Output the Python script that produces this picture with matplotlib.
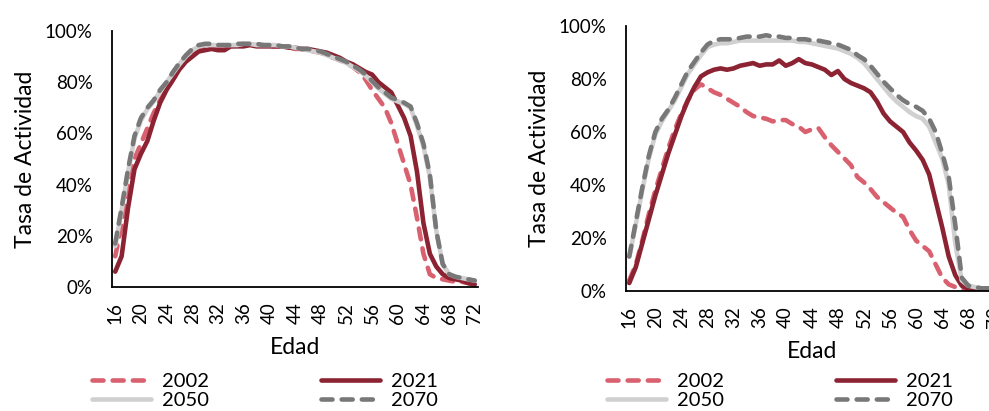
import matplotlib
matplotlib.use("Agg")
import matplotlib.pyplot as plt
from matplotlib.ticker import PercentFormatter

plt.rcParams['font.family'] = ['Lato', 'DejaVu Sans']

ages = list(range(16, 73))
tick_ages = list(range(16, 73, 4))

# Left panel (%)
left_2002 = [12, 24, 40, 50, 56, 62, 68, 73, 77, 81, 85, 88.5, 91, 93, 93.5, 94, 94, 94, 94, 94.5,
             95, 94.5, 94.5, 94.5, 94, 94, 94, 93.5, 93, 93, 92.5, 92, 91.5, 90.5, 89.5, 88.5, 87.5, 86,
             84, 81, 77, 73.5, 70, 64, 56, 48, 40, 27, 13, 5, 3.5, 3, 2.5, 2, 2, 1.5, 1]
left_2021 = [6, 12, 31, 46, 52, 57, 65, 72, 77, 81, 85, 88, 90, 92, 92.5, 93, 92.5, 92.5, 94, 94,
             94, 94.5, 94, 94, 94, 94, 94, 93.5, 93.5, 93, 93, 92.5, 92, 91.5, 90.5, 89.5, 88, 87,
             85.5, 84, 83, 80, 78, 76, 71, 66, 59, 45, 25, 13, 8, 5, 3.5, 3, 2.5, 1.5, 1]
left_2050 = [16, 30, 45, 58, 65, 69.5, 72.5, 76.5, 80, 83.5, 87, 90, 92.5, 94, 94.5, 94.5, 94.5, 94.5, 94.5, 94.5,
             95, 95, 94.5, 94.5, 94.5, 94.5, 94, 94, 93.5, 93, 92.5, 92, 91.5, 90.5, 89.5, 88.5, 87.5, 86,
             84.5, 82.5, 80, 77.5, 75.5, 73.5, 72.5, 71.5, 70, 63, 55, 43, 22, 9, 5, 4, 3.5, 3, 2.5]
left_2070 = [17, 31, 46, 59, 66, 70, 73, 77, 80, 84, 87.5, 90.5, 93, 94.5, 95, 95, 94.5, 94.5, 94.5, 95,
             95, 95, 95, 94.5, 94.5, 94.5, 94, 94, 93.5, 93, 93, 92.5, 92, 91, 90, 89, 88, 86.5,
             85, 83, 80.5, 78, 76, 74, 73, 72, 70.5, 64, 56, 44, 22, 9, 5, 4, 3.5, 3, 2.5]

# Right panel (%)
right_2002 = [4, 10, 19, 29, 38, 46, 54, 61, 67, 72, 76, 78, 76.5, 75, 74, 72.5, 71, 69.5, 67.5, 66,
              65.5, 65, 64, 64.5, 64.5, 63, 62, 60, 61, 61.5, 58, 55, 52.5, 50, 47.5, 43, 41, 38.5,
              35.5, 33.5, 31.5, 29.5, 28, 23, 19, 17, 15, 10, 5, 2.5, 1.5, 0.8, 0.5, 0.4, 0.3, 0.3, 0.3]
right_2021 = [3, 9, 18, 27, 36, 44, 52, 59, 66, 72, 77, 81, 82.5, 83.5, 84, 83.5, 84, 85, 85.5, 86,
              85, 85.5, 85.5, 87, 85, 86, 87.5, 86, 85.5, 84.5, 83.5, 81.5, 83, 80, 78.5, 77.5, 76.5, 75,
              71.5, 67, 64, 62, 60, 56, 53, 49.5, 44, 34, 24, 13, 6, 2, 0.8, 0.5, 0.3, 0.3, 0.2]
right_2050 = [13, 25, 38, 50, 59, 64, 68, 72, 77, 82, 85.5, 89, 92, 93, 93.5, 93.5, 94, 94.5, 94.5, 94.5,
              94.5, 94.5, 94.5, 94.5, 94.5, 94.5, 94, 94, 93.5, 93, 92.5, 92, 91.5, 90.5, 89.5, 88, 86, 83,
              80, 77, 74, 71.5, 69.5, 67.5, 66, 65, 62, 56, 50, 40, 18, 4, 2, 1.5, 1, 1, 1]
right_2070 = [13, 26, 39, 51, 60, 65, 68.5, 73, 78, 83, 86.5, 90, 93, 94.5, 95, 95, 95, 95.5, 96, 96,
              96, 96.5, 96, 96, 95.5, 95.5, 95, 95, 94.5, 94.5, 94, 93.5, 93, 92, 91, 89, 87.5, 85,
              82, 79, 76.5, 74, 72, 70.5, 69.5, 68, 65, 60, 52, 43, 25, 5, 2, 1.5, 1, 1, 1]

years = ['2002', '2021', '2050', '2070']
colors = {'2002': '#D9606E', '2021': '#8B2332', '2050': '#D0D0D0', '2070': '#787878'}
styles = {'2002': 'dashed', '2021': 'solid', '2050': 'solid', '2070': 'dashed'}

W, H = 989, 411
fig = plt.figure(figsize=(W / 100, H / 100), dpi=100)

def px_axes(x0, x1, ytop, ybot):
    return fig.add_axes([x0 / W, (H - ybot) / H, (x1 - x0) / W, (ybot - ytop) / H])

ax_l = px_axes(112, 478, 31, 287)
ax_r = px_axes(626, 626 + 57 * 6.52, 26, 291)

panels = [
    (ax_l, {'2002': left_2002, '2021': left_2021, '2050': left_2050, '2070': left_2070}, 256, 366, 265),
    (ax_r, {'2002': right_2002, '2021': right_2021, '2050': right_2050, '2070': right_2070}, 265, 57 * 6.52, 780),
]

fs = 13.5
for ax, data, hpx, wpx, legx in panels:
    handles = {}
    for y in years:
        vals = [v / 100 for v in data[y]]
        ln, = ax.plot(ages, vals, color=colors[y], lw=3.3, label=y,
                      solid_capstyle='round', dash_capstyle='round', solid_joinstyle='round')
        if styles[y] == 'dashed':
            ln.set_dashes([2.4, 2.0])
        handles[y] = ln
    ax.set_xlim(15.5, 72.5)
    ax.set_ylim(0, 1)
    ax.set_yticks([0, 0.2, 0.4, 0.6, 0.8, 1.0])
    ax.yaxis.set_major_formatter(PercentFormatter(1.0, decimals=0))
    ax.set_xticks(tick_ages)
    ax.set_xticklabels([str(a) for a in tick_ages], rotation=90)
    ax.tick_params(axis='both', length=0, labelsize=fs)
    ax.tick_params(axis='y', pad=14)
    ax.tick_params(axis='x', pad=11)
    for s in ['top', 'right']:
        ax.spines[s].set_visible(False)
    for s in ['left', 'bottom']:
        ax.spines[s].set_linewidth(1.3)
        ax.spines[s].set_color('black')
    ax.set_ylabel('Tasa de Actividad', fontsize=16.5, va='center')
    ax.yaxis.set_label_coords(-86 / wpx, 0.5)
    ax.set_xlabel('Edad', fontsize=16.5, va='center')
    ax.xaxis.set_label_coords(0.5, -60 / hpx)
    order = ['2002', '2050', '2021', '2070']
    ax.legend([handles[k] for k in order], order,
              loc='center', bbox_to_anchor=(legx / W, (H - 391) / H), bbox_transform=fig.transFigure,
              ncol=2, frameon=False, fontsize=14.5, handlelength=2.9, handletextpad=0.55,
              columnspacing=5.6, labelspacing=0.05, borderpad=0, borderaxespad=0)

fig.savefig('out.png', dpi=100)
